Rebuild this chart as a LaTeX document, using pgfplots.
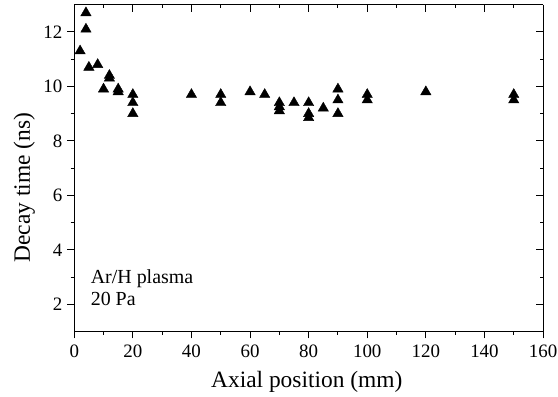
\documentclass[border=0pt]{standalone}
\usepackage{pgfplots}
\pgfplotsset{compat=1.18}
\usepackage{fontspec}
\setmainfont{Liberation Serif}
\begin{document}
\begin{tikzpicture}
\path[use as bounding box] (-74.5pt,-65.3pt) rectangle (485.5pt,332.7pt);
\pgfplotsset{
  common/.style={
    scale only axis, width=470.5pt, height=328pt,
    xmin=0, xmax=160, ymin=1, ymax=13,
    xtick={0,20,...,160}, ytick={2,4,...,12},
    minor x tick num=1, minor y tick num=1,
    axis line style={line width=1.1pt},
    every tick/.style={black, line width=1pt},
    major tick length=7pt, minor tick length=3.5pt,
  }
}
\begin{axis}[common,
  axis x line*=bottom, axis y line*=left,
  tick align=outside,
  /pgf/number format/assume math mode=true,
  tick label style={font=\fontsize{19}{19}\selectfont},
  xticklabel style={yshift=-2.5pt},
  yticklabel style={xshift=-1.5pt},
  label style={font=\fontsize{23.5}{23.5}\selectfont},
  xlabel={Axial position (mm)},
  ylabel={Decay time (ns)},
  xlabel style={at={(axis description cs:0.496,0)}, anchor=base, yshift=-56pt},
  ylabel style={at={(axis description cs:-0.0946,0.44)}, anchor=base, rotate=0},
]
\addplot[only marks, mark=triangle*, mark size=6pt, black] coordinates {
(2,11.3)
(4,12.7) (4,12.1)
(5,10.7)
(8,10.8)
(10,9.9)
(12,10.4) (12,10.3)
(15,9.9) (15,9.8)
(20,9.7) (20,9.4) (20,9.0)
(40,9.7)
(50,9.7) (50,9.4)
(60,9.8)
(65,9.7)
(70,9.4) (70,9.25) (70,9.1)
(75,9.4)
(80,9.4) (80,9.0) (80,8.85)
(85,9.2)
(90,9.9) (90,9.5) (90,9.0)
(100,9.7) (100,9.5)
(120,9.8)
(150,9.7) (150,9.5)
};
\node[anchor=base west, inner sep=0pt, font=\fontsize{20}{20}\selectfont] at (axis cs:5.6,2.745) {Ar/H plasma};
\node[anchor=base west, inner sep=0pt, font=\fontsize{20}{20}\selectfont] at (axis cs:5.6,1.95) {20 Pa};
\end{axis}
\begin{axis}[common,
  axis x line*=top, axis y line*=right,
  tick align=inside,
  xticklabels={}, yticklabels={},
]
\end{axis}
\end{tikzpicture}
\end{document}
